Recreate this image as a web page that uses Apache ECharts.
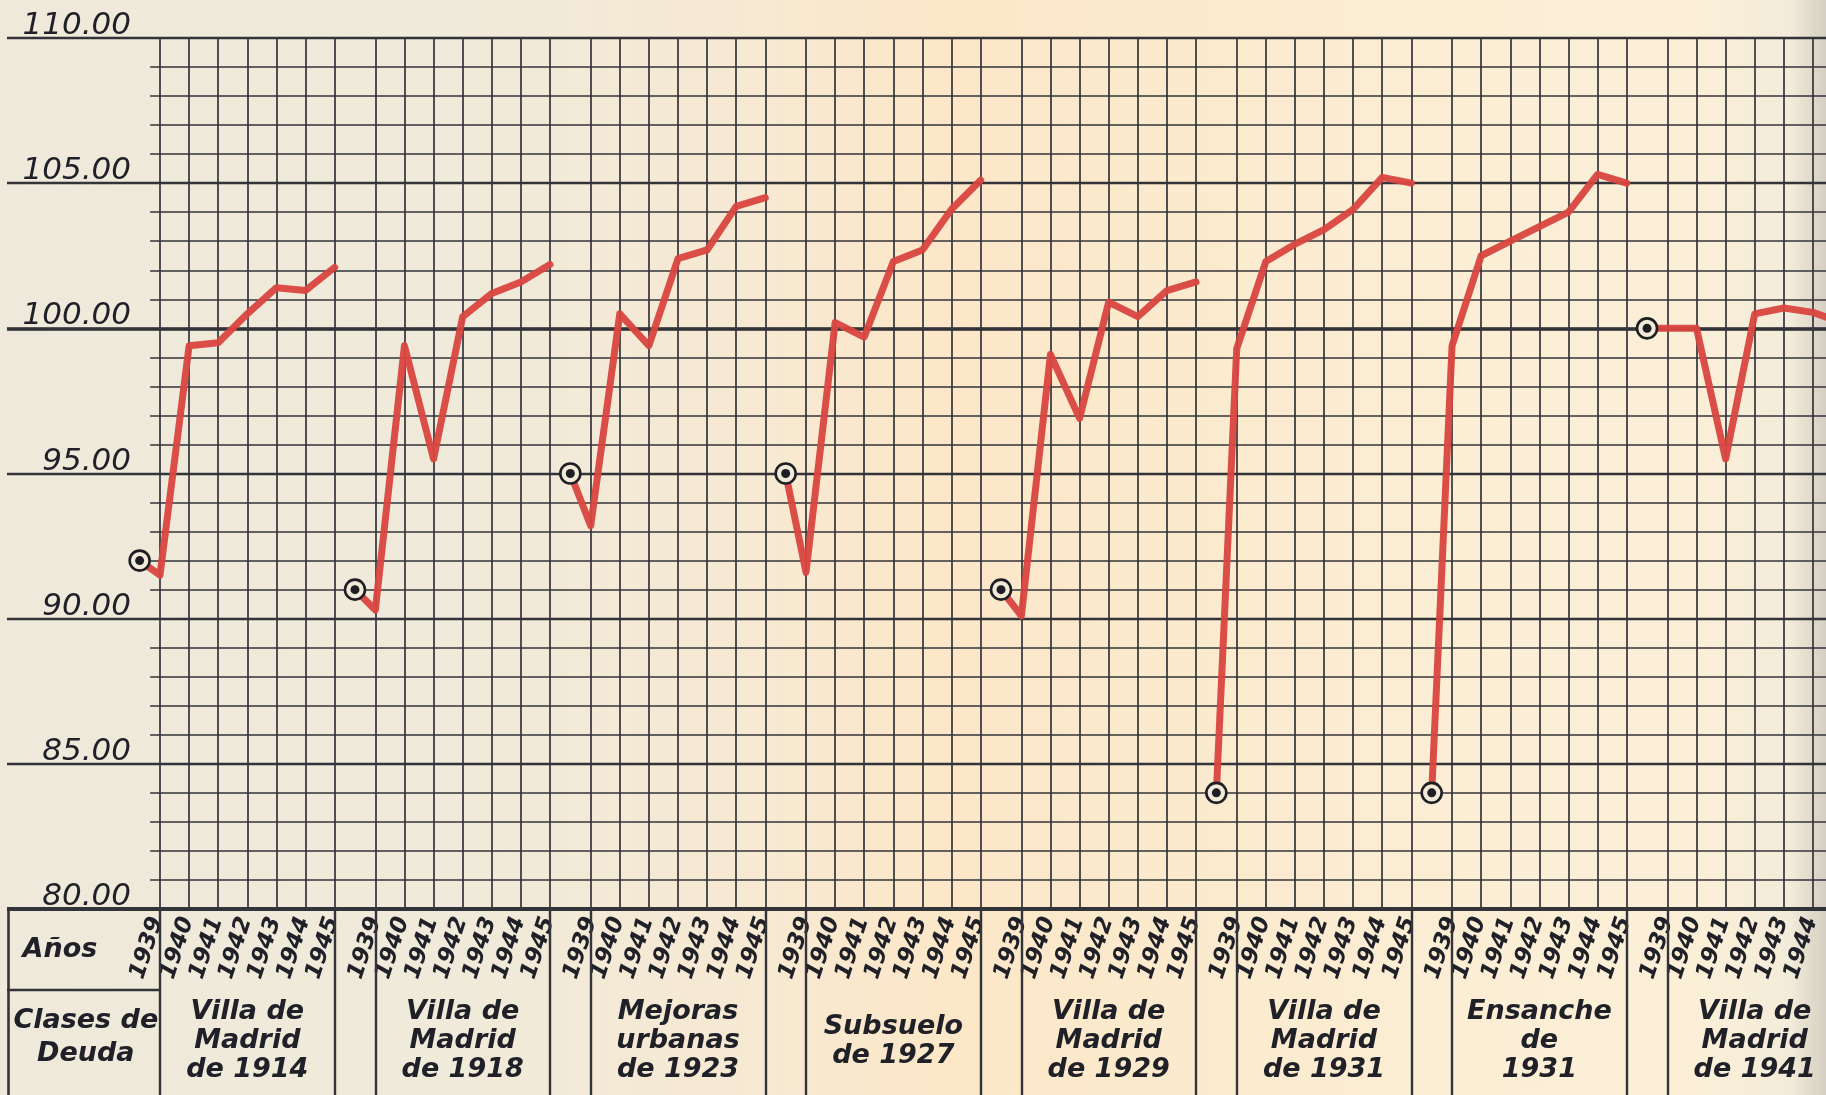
<!DOCTYPE html>
<html>
<head>
<meta charset="utf-8">
<script src="https://cdn.jsdelivr.net/npm/echarts@6/dist/echarts.min.js"></script>
<style>
html,body{margin:0;padding:0;}
#chart{width:1826px;height:1095px;
background:linear-gradient(90deg,#eee9da 0%,#f0eada 25%,#f7e9d2 42%,#fce7c8 52%,#fbeacd 64%,#fbeed5 80%,#fbefd7 93%,#f3ecda 98%,#d5cfc3 100%);}
</style>
</head>
<body>
<div id="chart"></div>
<script>
// ---------------- data ----------------
const bondClasses = ['Villa de\nMadrid\nde 1914', 'Villa de\nMadrid\nde 1918', 'Mejoras\nurbanas\nde 1923', 'Subsuelo\nde 1927',
                     'Villa de\nMadrid\nde 1929', 'Villa de\nMadrid\nde 1931', 'Ensanche\nde\n1931', 'Villa de\nMadrid\nde 1941'];
const years = ['1939', '1940', '1941', '1942', '1943', '1944', '1945'];
const yTicks = [80, 85, 90, 95, 100, 105, 110];
const tableHeads = ['Años', 'Clases de\nDeuda'];

// 1939 reference quotation (ringed point) of each class
const start1939 = [92.0, 91.0, 95.0, 95.0, 91.0, 84.0, 84.0, 100.0];
// quotations at the year lines 1940 ... 1946 of each class
const madrid1914   = [91.5, 99.4, 99.5, 100.5, 101.4, 101.3, 102.1];
const madrid1918   = [90.3, 99.4, 95.5, 100.4, 101.2, 101.6, 102.2];
const mejoras1923  = [93.2, 100.5, 99.4, 102.4, 102.7, 104.2, 104.5];
const subsuelo1927 = [91.6, 100.2, 99.7, 102.3, 102.7, 104.1, 105.1];
const madrid1929   = [90.1, 99.1, 96.9, 100.9, 100.4, 101.3, 101.6];
const madrid1931   = [99.3, 102.3, 102.9, 103.4, 104.1, 105.2, 105.0];
const ensanche1931 = [99.4, 102.5, 103.0, 103.5, 104.0, 105.3, 105.0];
const madrid1941   = [100.0, 100.0, 95.5, 100.5, 100.7, 100.55, 100.2];

const groups = [madrid1914, madrid1918, mejoras1923, subsuelo1927, madrid1929, madrid1931, ensanche1931, madrid1941];

// ---------------- layout / style ----------------
const P = 7.4;            // width of one class block, in year columns
const X_MIN = -5.258, X_MAX = 57.25;
const MINOR_START = -0.34;
const RED = '#d9443f';
const GRID = '#33333a';
const INK = '#202128';
const FONT = 'DejaVu Sans';

// ---------------- build ----------------
const gridMarks = [];
for (let v = 81; v < 110; v++) {
  if (v % 5 !== 0) gridMarks.push([{coord: [MINOR_START, v], lineStyle: {width: 1.5}}, {coord: [X_MAX, v]}]);
}
groups.forEach((vals, g) => {
  vals.forEach((_, k) => gridMarks.push({xAxis: g * P + k, lineStyle: {width: 1.7}}));
});
gridMarks.push({yAxis: 100, lineStyle: {width: 3.6}});
gridMarks.push({yAxis: 80, lineStyle: {width: 4.2}});

const tableMarks = [{xAxis: X_MIN + 0.04, lineStyle: {width: 2.6}}];
groups.forEach((_, g) => {
  tableMarks.push({xAxis: g * P, lineStyle: {width: 2.4}});
  tableMarks.push({xAxis: g * P + 6, lineStyle: {width: 2.4}});
});
tableMarks.push([{coord: [X_MIN, 0.565], lineStyle: {width: 2.4}}, {coord: [0, 0.565]}]);

const lineSeries = groups.map((vals, g) => ({
  type: 'line', xAxisIndex: 0, yAxisIndex: 0, z: 5,
  showSymbol: false, symbol: 'none', clip: true, animation: false, silent: true,
  lineStyle: {color: RED, width: 7, cap: 'round', join: 'round', opacity: 0.95},
  data: [[g * P - 0.7, start1939[g]]].concat(vals.map((v, k) => [g * P + k, v]))
}));

const yearLabelData = [];
groups.forEach((_, g) => {
  years.forEach((yr, i) => {
    const x = i === 0 ? (g === 0 ? -0.45 : g * P - 0.35) : g * P + (i - 1) + 0.6;
    yearLabelData.push([x, 0.79, yr]);
  });
});

const markCommon = {silent: true, symbol: ['none', 'none'], animation: false,
  label: {show: false}, emphasis: {disabled: true},
  lineStyle: {color: GRID, type: 'solid', width: 1.6}};

const textItem = {color: 'rgba(0,0,0,0)', opacity: 1};

const option = {
  animation: false,
  grid: [
    {left: 7, right: 0, top: 38, bottom: 186, containLabel: false, outerBoundsMode: 'none'},
    {left: 7, right: 0, top: 909, bottom: 0, containLabel: false, outerBoundsMode: 'none'}
  ],
  xAxis: [
    {type: 'value', gridIndex: 0, min: X_MIN, max: X_MAX, show: false},
    {type: 'value', gridIndex: 1, min: X_MIN, max: X_MAX, show: false}
  ],
  yAxis: [
    {type: 'value', gridIndex: 0, min: yTicks[0], max: yTicks[yTicks.length - 1], interval: 5,
     axisLine: {show: false}, axisTick: {show: false},
     splitLine: {show: true, lineStyle: {color: GRID, width: 2.4}},
     axisLabel: {show: true, inside: true, margin: 124, align: 'right', verticalAlign: 'bottom',
       showMinLabel: true, showMaxLabel: true, lineHeight: 24,
       formatter: v => v.toFixed(2), fontSize: 31, fontStyle: 'italic', fontFamily: FONT, color: INK}},
    {type: 'value', gridIndex: 1, min: 0, max: 1, show: false}
  ],
  series: [
    {type: 'line', xAxisIndex: 0, yAxisIndex: 0, z: 1, data: [[X_MIN, 80]], showSymbol: false,
     lineStyle: {width: 0}, silent: true, markLine: Object.assign({data: gridMarks}, markCommon)},
    ...lineSeries,
    {type: 'scatter', xAxisIndex: 0, yAxisIndex: 0, z: 6, silent: true, clip: false,
     symbol: 'circle', symbolSize: 20,
     itemStyle: {color: '#f2ead8', borderColor: '#1e1e24', borderWidth: 2.6, opacity: 1},
     data: start1939.map((v, g) => [g * P - 0.7, v])},
    {type: 'scatter', xAxisIndex: 0, yAxisIndex: 0, z: 7, silent: true, clip: false,
     symbol: 'circle', symbolSize: 9, itemStyle: {color: '#1e1e24', opacity: 1},
     data: start1939.map((v, g) => [g * P - 0.7, v])},
    {type: 'line', xAxisIndex: 1, yAxisIndex: 1, z: 1, data: [[X_MIN, 0]], showSymbol: false,
     lineStyle: {width: 0}, silent: true, markLine: Object.assign({data: tableMarks}, markCommon)},
    {type: 'scatter', xAxisIndex: 1, yAxisIndex: 1, z: 3, silent: true, symbolSize: 1,
     itemStyle: textItem,
     label: {show: true, position: 'inside', formatter: p => p.value[2], rotate: 72,
       fontSize: 23, fontWeight: 'bold', fontStyle: 'italic', fontFamily: FONT, color: INK},
     data: yearLabelData},
    {type: 'scatter', xAxisIndex: 1, yAxisIndex: 1, z: 3, silent: true, symbolSize: 1,
     itemStyle: textItem,
     label: {show: true, position: 'inside', formatter: p => p.value[2], align: 'center',
       fontSize: 27, lineHeight: 29, fontWeight: 'bold', fontStyle: 'italic', fontFamily: FONT, color: INK},
     data: bondClasses.map((n, g) => [g * P + 3, 0.29, n])},
    {type: 'scatter', xAxisIndex: 1, yAxisIndex: 1, z: 3, silent: true, symbolSize: 1, clip: false,
     itemStyle: textItem,
     label: {show: true, position: 'inside', formatter: p => p.value[2], align: 'center',
       fontSize: 27, lineHeight: 33, fontWeight: 'bold', fontStyle: 'italic', fontFamily: FONT, color: INK},
     data: [[-3.44, 0.78, tableHeads[0]], [-2.55, 0.31, tableHeads[1]]]}
  ]
};

const chart = echarts.init(document.getElementById('chart'), null, {renderer: 'canvas'});
chart.setOption(option);
</script>
</body>
</html>
